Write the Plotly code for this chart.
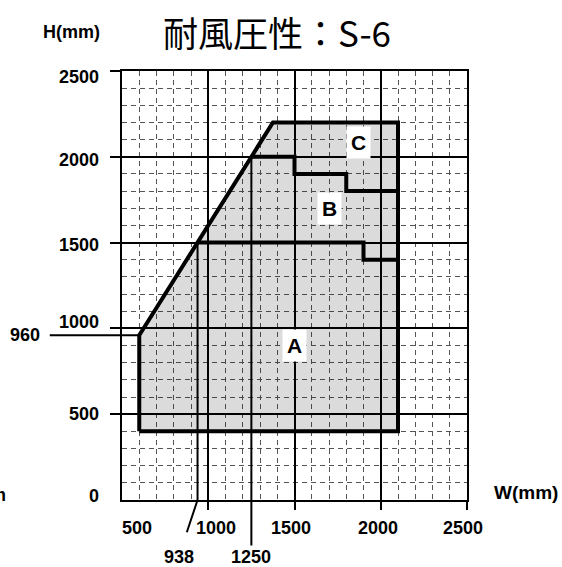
import plotly.graph_objects as go

# ---------------- data ----------------
x_ticks = [500, 1000, 1500, 2000, 2500]
y_ticks = [0, 500, 1000, 1500, 2000, 2500]

# outer boundary of the usable region (W, H)
outer_w = [600, 600, 1375, 2100, 2100, 600]
outer_h = [400, 960, 2200, 2200, 400, 400]

# A / B boundary
ab_w = [937.5, 1900, 1900, 2100]
ab_h = [1500, 1500, 1400, 1400]

# B / C boundary
bc_w = [1250, 1500, 1500, 1800, 1800, 2100]
bc_h = [2000, 2000, 1900, 1900, 1800, 1800]

# marked dimensions
mark_w = [938, 1250]
mark_h_top = [1500, 2000]
mark_h_label = 960
mark_h_label_w = 600

# region labels
region_names = ["A", "B", "C"]
region_w = [1500, 1700, 1870]
region_h = [900, 1700, 2085]

title_text = "耐風圧性：S-6"

# ---------------- figure ----------------
W, H = 562, 567
L, T = 122, 71
PW, PH = 345, 429
R, B = W - L - PW, H - T - PH


def px(xp):
    # window pixel -> paper x
    return (xp - L) / PW


def py(yp):
    # window pixel -> paper y
    return (T + PH - yp) / PH


FONT = "Liberation Sans, Arial, sans-serif"

fig = go.Figure()

# grey fill (semi-transparent so grid shows through)
fig.add_trace(go.Scatter(x=outer_w, y=outer_h, mode="lines", fill="toself",
                         fillcolor="rgba(0,0,0,0.14)",
                         line=dict(color="black", width=4), hoverinfo="skip"))
fig.add_trace(go.Scatter(x=ab_w, y=ab_h, mode="lines",
                         line=dict(color="black", width=4), hoverinfo="skip"))
fig.add_trace(go.Scatter(x=bc_w, y=bc_h, mode="lines",
                         line=dict(color="black", width=4), hoverinfo="skip"))
for mw, mh in zip(mark_w, mark_h_top):
    fig.add_trace(go.Scatter(x=[mw, mw], y=[0, mh], mode="lines",
                             line=dict(color="black", width=2), hoverinfo="skip"))

ann = []
# region labels
for n, rw, rh in zip(region_names, region_w, region_h):
    ann.append(dict(x=rw, y=rh, xref="x", yref="y", text="<b>%s</b>" % n,
                    showarrow=False, bgcolor="white", borderpad=4,
                    xanchor="center", yanchor="middle",
                    font=dict(family=FONT, size=21, color="black")))

# y tick labels
yshift = {0: 4, 500: 0, 1000: 6, 1500: -2, 2000: -3, 2500: -6}
for v in y_ticks:
    ann.append(dict(x=px(101), y=v, xref="paper", yref="y", text="<b>%d</b>" % v,
                    showarrow=False, xanchor="right", yanchor="middle",
                    yshift=yshift[v],
                    font=dict(family=FONT, size=18, color="black")))

# x tick labels
xshift = {500: 15, 1000: 8, 1500: -4, 2000: -3, 2500: -4}
for v in x_ticks:
    ann.append(dict(x=v, y=py(528), xref="x", yref="paper", text="<b>%d</b>" % v,
                    showarrow=False, xanchor="center", yanchor="middle",
                    xshift=xshift[v],
                    font=dict(family=FONT, size=18, color="black")))

# dimension callouts
ann.append(dict(x=mark_h_label_w, y=mark_h_label, xref="x", yref="y",
                text="<b>%d</b>" % mark_h_label, showarrow=True, arrowhead=0,
                arrowwidth=2, arrowcolor="black", ax=-114, ay=0, startstandoff=8,
                font=dict(family=FONT, size=18, color="black")))
ann.append(dict(x=mark_w[0], y=0, xref="x", yref="y",
                text="<b>%d</b>" % mark_w[0], showarrow=True, arrowhead=0,
                arrowwidth=2, arrowcolor="black", ax=-19, ay=57, startstandoff=14,
                font=dict(family=FONT, size=18, color="black")))
ann.append(dict(x=mark_w[1], y=0, xref="x", yref="y",
                text="<b>%d</b>" % mark_w[1], showarrow=True, arrowhead=0,
                arrowwidth=2, arrowcolor="black", ax=0, ay=57,
                font=dict(family=FONT, size=18, color="black")))

# axis titles
ann.append(dict(x=px(71), y=py(32), xref="paper", yref="paper", text="<b>H(mm)</b>",
                showarrow=False, xanchor="center", yanchor="middle",
                font=dict(family=FONT, size=18, color="black")))
ann.append(dict(x=px(526), y=py(492), xref="paper", yref="paper", text="<b>W(mm)</b>",
                showarrow=False, xanchor="center", yanchor="middle",
                font=dict(family=FONT, size=19, color="black")))
# cut-off fragment at far left
ann.append(dict(x=px(8), y=py(495), xref="paper", yref="paper", text="<b>m</b>",
                showarrow=False, xanchor="right", yanchor="middle",
                font=dict(family=FONT, size=18, color="black")))
# title
ann.append(dict(x=px(277), y=py(31), xref="paper", yref="paper", text=title_text,
                showarrow=False, xanchor="center", yanchor="middle",
                font=dict(family="Noto Sans CJK JP", size=35, color="black")))

fig.update_layout(
    width=W, height=H,
    margin=dict(l=L, r=R, t=T, b=B, pad=0),
    paper_bgcolor="white", plot_bgcolor="white",
    showlegend=False,
    annotations=ann,
    xaxis=dict(range=[500, 2500], tickvals=x_ticks[1:], showticklabels=False,
               ticks="outside", ticklen=8, tickwidth=2, tickcolor="black",
               showgrid=True, gridcolor="black", gridwidth=2,
               showline=True, linecolor="black", linewidth=2, mirror=True,
               zeroline=False, fixedrange=True,
               minor=dict(dtick=100, tick0=0, showgrid=True, gridcolor="#555555",
                          gridwidth=1, griddash="5px,4px", ticks="")),
    yaxis=dict(range=[0, 2500], tickvals=y_ticks[1:], showticklabels=False,
               ticks="outside", ticklen=10, tickwidth=2, tickcolor="black",
               showgrid=True, gridcolor="black", gridwidth=2,
               showline=True, linecolor="black", linewidth=2, mirror=True,
               zeroline=False, fixedrange=True,
               minor=dict(dtick=100, tick0=0, showgrid=True, gridcolor="#555555",
                          gridwidth=1, griddash="5px,4px", ticks="")),
)

fig.write_html(
    "out.html",
    config={"displayModeBar": False},
    post_script="document.body.style.margin='0px';document.body.style.overflow='hidden';",
)
